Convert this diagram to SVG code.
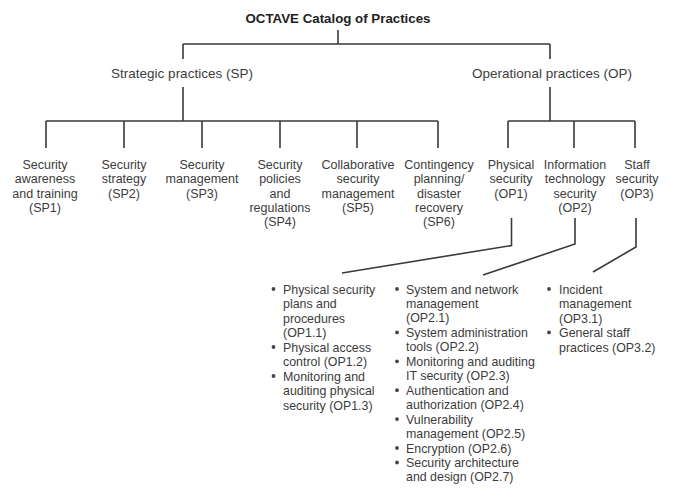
<svg xmlns="http://www.w3.org/2000/svg" width="673" height="497" viewBox="0 0 673 497">
<style>
text{font-family:"Liberation Sans",Arial,Helvetica,sans-serif;fill:#3c3c3c}
.t{font-size:13.3px;font-weight:bold;fill:#222}
.m{font-size:13.5px}
.s{font-size:12.5px;text-anchor:middle}
.b{font-size:12.4px}
.c{text-anchor:middle}
#connectors path{fill:none;stroke:#3a3a3a;stroke-width:1.6}
.dot{fill:#444}
</style>
<rect width="673" height="497" fill="#fff"/>
<g id="connectors">
<path d="M338 30V44M183 44H550M183 44V59M550 44V59"/>
<path d="M183 87V121M46 121H438M46 121V148M124 121V148M202 121V148M280 121V148M357 121V148M438 121V148"/>
<path d="M550 87V121M508 121H635M508 121V148M574 121V148M635 121V148"/>
<path d="M511.5 218V245.5L342 273"/>
<path d="M575 218V244L483 275"/>
<path d="M636 218V247L593 272"/>
</g>
<g id="root"><text class="t c" x="338" y="22.5">OCTAVE Catalog of Practices</text></g>
<g id="sp"><text class="m c" x="182" y="78">Strategic practices (SP)</text></g>
<g id="op"><text class="m c" x="552" y="78">Operational practices (OP)</text></g>
<g id="sp1"><text class="s" x="45" y="169">Security<tspan x="45" dy="14.3">awareness</tspan><tspan x="45" dy="14.3">and training</tspan><tspan x="45" dy="14.3">(SP1)</tspan></text></g>
<g id="sp2"><text class="s" x="124" y="169">Security<tspan x="124" dy="14.3">strategy</tspan><tspan x="124" dy="14.3">(SP2)</tspan></text></g>
<g id="sp3"><text class="s" x="202" y="169">Security<tspan x="202" dy="14.3">management</tspan><tspan x="202" dy="14.3">(SP3)</tspan></text></g>
<g id="sp4"><text class="s" x="280" y="169">Security<tspan x="280" dy="14.3">policies</tspan><tspan x="280" dy="14.3">and</tspan><tspan x="280" dy="14.3">regulations</tspan><tspan x="280" dy="14.3">(SP4)</tspan></text></g>
<g id="sp5"><text class="s" x="358" y="169">Collaborative<tspan x="358" dy="14.3">security</tspan><tspan x="358" dy="14.3">management</tspan><tspan x="358" dy="14.3">(SP5)</tspan></text></g>
<g id="sp6"><text class="s" x="439" y="169">Contingency<tspan x="439" dy="14.3">planning/</tspan><tspan x="439" dy="14.3">disaster</tspan><tspan x="439" dy="14.3">recovery</tspan><tspan x="439" dy="14.3">(SP6)</tspan></text></g>
<g id="op1"><text class="s" x="511" y="169">Physical<tspan x="511" dy="14.3">security</tspan><tspan x="511" dy="14.3">(OP1)</tspan></text></g>
<g id="op2"><text class="s" x="575" y="169">Information<tspan x="575" dy="14.3">technology</tspan><tspan x="575" dy="14.3">security</tspan><tspan x="575" dy="14.3">(OP2)</tspan></text></g>
<g id="op3"><text class="s" x="637" y="169">Staff<tspan x="637" dy="14.3">security</tspan><tspan x="637" dy="14.3">(OP3)</tspan></text></g>
<g id="op1-list">
<circle class="dot" cx="273.5" cy="289" r="1.9"/>
<circle class="dot" cx="273.5" cy="347" r="1.9"/>
<circle class="dot" cx="273.5" cy="376" r="1.9"/>
<text class="b" x="283" y="293.5">Physical security<tspan x="283" dy="14.5">plans and</tspan><tspan x="283" dy="14.5">procedures</tspan><tspan x="283" dy="14.5">(OP1.1)</tspan><tspan x="283" dy="14.5">Physical access</tspan><tspan x="283" dy="14.5">control (OP1.2)</tspan><tspan x="283" dy="14.5">Monitoring and</tspan><tspan x="283" dy="14.5">auditing physical</tspan><tspan x="283" dy="14.5">security (OP1.3)</tspan></text>
</g>
<g id="op2-list">
<circle class="dot" cx="397" cy="289" r="1.9"/>
<circle class="dot" cx="397" cy="332.4" r="1.9"/>
<circle class="dot" cx="397" cy="361.3" r="1.9"/>
<circle class="dot" cx="397" cy="390.2" r="1.9"/>
<circle class="dot" cx="397" cy="419.1" r="1.9"/>
<circle class="dot" cx="397" cy="448" r="1.9"/>
<circle class="dot" cx="397" cy="462.5" r="1.9"/>
<text class="b" x="406" y="293.5">System and network<tspan x="406" dy="14.46">management</tspan><tspan x="406" dy="14.46">(OP2.1)</tspan><tspan x="406" dy="14.46">System administration</tspan><tspan x="406" dy="14.46">tools (OP2.2)</tspan><tspan x="406" dy="14.46">Monitoring and auditing</tspan><tspan x="406" dy="14.46">IT security (OP2.3)</tspan><tspan x="406" dy="14.46">Authentication and</tspan><tspan x="406" dy="14.46">authorization (OP2.4)</tspan><tspan x="406" dy="14.46">Vulnerability</tspan><tspan x="406" dy="14.46">management (OP2.5)</tspan><tspan x="406" dy="14.46">Encryption (OP2.6)</tspan><tspan x="406" dy="14.46">Security architecture</tspan><tspan x="406" dy="14.46">and design (OP2.7)</tspan></text>
</g>
<g id="op3-list">
<circle class="dot" cx="549" cy="289" r="1.9"/>
<circle class="dot" cx="549" cy="332.4" r="1.9"/>
<text class="b" x="559" y="293.5">Incident<tspan x="559" dy="14.5">management</tspan><tspan x="559" dy="14.5">(OP3.1)</tspan><tspan x="559" dy="14.5">General staff</tspan><tspan x="559" dy="14.5">practices (OP3.2)</tspan></text>
</g>
</svg>
